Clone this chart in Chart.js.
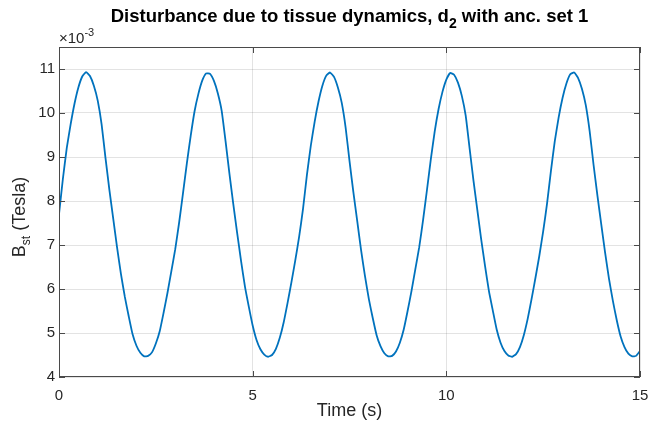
<!DOCTYPE html>
<html><head><meta charset="utf-8">
<script src="https://cdn.jsdelivr.net/npm/chart.js@4/dist/chart.umd.min.js"></script>
<style>html,body{margin:0;padding:0;background:#fff;overflow:hidden}#wrap{width:649px;height:424px;position:relative}</style>
</head><body><div id="wrap"><canvas id="c"></canvas></div>
<script>
// Sample times (s): 0 to 15 in steps of 0.1
const timeStep = 0.1;
// B_st values, in units of 1e-3 Tesla
const bst = [
 7.70, 8.50, 9.20, 9.74,10.21,10.58,10.83,10.93,10.84,10.62,
10.28, 9.74, 8.98, 8.26, 7.60, 6.94, 6.34, 5.82, 5.38, 4.97,
 4.71, 4.55, 4.47, 4.48, 4.56, 4.76, 5.04, 5.46, 5.91, 6.40,
 6.90, 7.50, 8.17, 8.85, 9.48,10.04,10.44,10.74,10.90,10.89,
10.73,10.45,10.05, 9.36, 8.62, 7.93, 7.27, 6.64, 6.06, 5.60,
 5.17, 4.84, 4.63, 4.51, 4.46, 4.50, 4.64, 4.89, 5.24, 5.68,
 6.15, 6.65, 7.19, 7.82, 8.59, 9.25, 9.80,10.26,10.62,10.85,
10.92,10.82,10.58,10.23, 9.67, 8.91, 8.20, 7.54, 6.88, 6.29,
 5.77, 5.34, 4.95, 4.70, 4.54, 4.47, 4.48, 4.58, 4.78, 5.08,
 5.50, 5.95, 6.45, 6.95, 7.57, 8.25, 8.95, 9.58,10.09,10.48,
10.76,10.91,10.87,10.69,10.39, 9.94, 9.20, 8.47, 7.80, 7.13,
 6.52, 5.95, 5.51, 5.08, 4.78, 4.59, 4.49, 4.46, 4.52, 4.68,
 4.95, 5.32, 5.77, 6.25, 6.75, 7.31, 7.94, 8.68, 9.36, 9.90,
10.34,10.67,10.88,10.92,10.80,10.55,10.18, 9.59, 8.83, 8.13,
 7.47, 6.82, 6.23, 5.73, 5.29, 4.92, 4.68, 4.53, 4.47, 4.48,
 4.59
];
const times = bst.map((_, i) => Math.round(i * timeStep * 10) / 10);
const xTicks = [0, 5, 10, 15];
const yTicks = [4, 5, 6, 7, 8, 9, 10, 11];
const xRange = [0, 15];
const yRange = [4, 11.5];
const titleParts = ['Disturbance due to tissue dynamics, d', '2', ' with anc. set 1'];
const yLabelParts = ['B', 'st', ' (Tesla)'];
const xLabel = 'Time (s)';
const exponentParts = ['\u00d710', '-3'];

const FONT = '"Liberation Sans", Arial, Helvetica, sans-serif';
const TXT = '#262626';

const decor = {
  id: 'decor',
  afterDraw(chart) {
    const ctx = chart.ctx, a = chart.chartArea;
    const xs = chart.scales.x, ys = chart.scales.y;
    ctx.save();
    // box
    ctx.strokeStyle = '#4a4a4a';
    ctx.lineWidth = 1;
    ctx.strokeRect(Math.round(a.left) + 0.5, Math.round(a.top) + 0.5,
      Math.round(a.right - a.left) - 1, Math.round(a.bottom - a.top) - 1);
    // inner ticks
    ctx.beginPath();
    const tl = 6;
    yTicks.forEach(v => {
      const y = Math.round(ys.getPixelForValue(v)) + 0.5;
      ctx.moveTo(a.left, y); ctx.lineTo(a.left + tl, y);
      ctx.moveTo(a.right, y); ctx.lineTo(a.right - tl, y);
    });
    xTicks.forEach(v => {
      const x = Math.round(xs.getPixelForValue(v)) + 0.5;
      ctx.moveTo(x, a.bottom); ctx.lineTo(x, a.bottom - tl);
      ctx.moveTo(x, a.top); ctx.lineTo(x, a.top + tl);
    });
    ctx.stroke();

    ctx.fillStyle = '#000';
    ctx.textBaseline = 'alphabetic';
    ctx.textAlign = 'left';
    // title with subscript
    const cx = (a.left + a.right) / 2;
    const fMain = 'bold 18.5px ' + FONT, fSub = 'bold 14px ' + FONT;
    ctx.font = fMain; const w1 = ctx.measureText(titleParts[0]).width, w3 = ctx.measureText(titleParts[2]).width;
    ctx.font = fSub; const w2 = ctx.measureText(titleParts[1]).width;
    let x0 = cx - (w1 + w2 + w3) / 2;
    const tb = 22;
    ctx.font = fMain; ctx.fillText(titleParts[0], x0, tb);
    ctx.font = fSub; ctx.fillText(titleParts[1], x0 + w1, tb + 6);
    ctx.font = fMain; ctx.fillText(titleParts[2], x0 + w1 + w2, tb);

    ctx.fillStyle = TXT;
    // exponent
    ctx.font = '15px ' + FONT;
    const ew = ctx.measureText(exponentParts[0]).width;
    ctx.fillText(exponentParts[0], a.left, 43);
    ctx.font = '11px ' + FONT;
    ctx.fillText(exponentParts[1], a.left + ew, 36);

    // x label
    ctx.font = '18px ' + FONT;
    ctx.textAlign = 'center';
    ctx.fillText(xLabel, cx, 416);

    // y label rotated
    ctx.translate(25, (a.top + a.bottom) / 2 + 5);
    ctx.rotate(-Math.PI / 2);
    ctx.textAlign = 'left';
    const fy = '18px ' + FONT, fys = '12px ' + FONT;
    ctx.font = fy; const b1 = ctx.measureText(yLabelParts[0]).width, b3 = ctx.measureText(yLabelParts[2]).width;
    ctx.font = fys; const b2 = ctx.measureText(yLabelParts[1]).width;
    let y0 = -(b1 + b2 + b3) / 2;
    ctx.font = fy; ctx.fillText(yLabelParts[0], y0, 0);
    ctx.font = fys; ctx.fillText(yLabelParts[1], y0 + b1, 5);
    ctx.font = fy; ctx.fillText(yLabelParts[2], y0 + b1 + b2, 0);
    ctx.restore();
  }
};

new Chart(document.getElementById('c'), {
  type: 'line',
  data: {
    datasets: [{
      data: times.map((t, i) => ({ x: t, y: bst[i] })),
      borderColor: '#0072BD',
      borderWidth: 1.8,
      pointRadius: 0,
      tension: 0.15,
      fill: false
    }]
  },
  options: {
    responsive: true,
    maintainAspectRatio: false,
    animation: false,
    devicePixelRatio: 1,
    layout: { padding: { left: 0, right: 9, top: 47, bottom: 0 } },
    plugins: { legend: { display: false }, title: { display: false }, tooltip: { enabled: false } },
    scales: {
      x: {
        type: 'linear', min: xRange[0], max: xRange[1],
        afterBuildTicks: s => { s.ticks = xTicks.map(v => ({ value: v })); },
        afterFit: s => { s.height = 47; s.paddingLeft = 0; s.paddingRight = 0; },
        ticks: { color: TXT, font: { size: 15, family: FONT }, padding: 10, maxRotation: 0 },
        grid: { color: 'rgba(38,38,38,0.13)', drawTicks: false, lineWidth: 1 },
        border: { display: false }
      },
      y: {
        type: 'linear', min: yRange[0], max: yRange[1],
        afterBuildTicks: s => { s.ticks = yTicks.map(v => ({ value: v })); },
        afterFit: s => { s.width = 59; s.paddingTop = 0; s.paddingBottom = 0; },
        ticks: { color: TXT, font: { size: 15, family: FONT }, padding: 4 },
        grid: { color: 'rgba(38,38,38,0.13)', drawTicks: false, lineWidth: 1 },
        border: { display: false }
      }
    }
  },
  plugins: [decor]
});
</script>
</body></html>
